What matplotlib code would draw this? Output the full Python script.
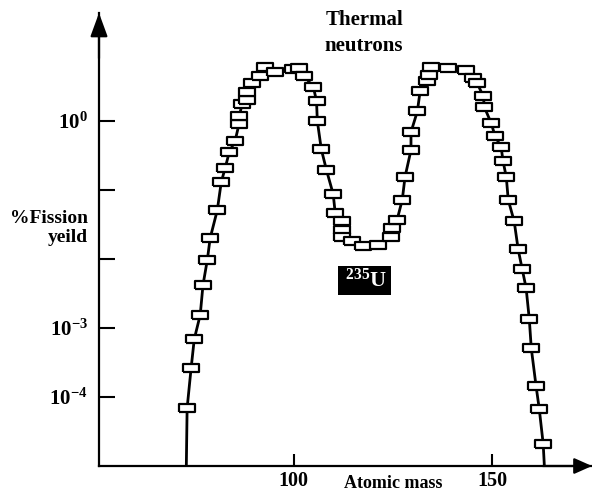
import matplotlib
matplotlib.use("Agg")
import matplotlib.pyplot as plt
from matplotlib.ticker import NullLocator

plt.rcParams['font.family'] = 'Liberation Serif'
plt.rcParams['font.weight'] = 'bold'
plt.rcParams['mathtext.fontset'] = 'custom'
plt.rcParams['mathtext.rm'] = 'Liberation Serif:bold'
plt.rcParams['mathtext.bf'] = 'Liberation Serif:bold'
plt.rcParams['mathtext.it'] = 'Liberation Serif:italic:bold'

# measured points (atomic mass, % fission yield)
mass = [73.2, 74.2, 75.0, 76.5, 77.2, 78.3, 79.0, 80.8, 81.8, 82.8,
        83.8, 85.3, 86.3, 86.3, 87.1, 88.3, 88.3, 89.6, 91.6, 92.8,
        95.4, 99.9, 101.4, 102.7, 105.0, 105.8, 106.0, 107.0, 108.3, 110.0,
        110.5, 112.3, 112.3, 112.3, 114.8, 117.6, 121.3, 124.6, 124.9, 126.1,
        127.4, 128.1, 129.6, 129.6, 131.2, 131.9, 133.7, 134.2, 134.7, 139.0,
        143.5, 145.3, 146.3, 147.8, 148.1, 149.8, 150.8, 152.3, 152.8, 153.6,
        154.1, 155.6, 156.6, 157.6, 158.6, 159.4, 159.9, 161.1, 161.9, 162.9]
yield_pct = [6.9e-5, 2.6e-4, 6.9e-4, 1.55e-3, 4.2e-3, 9.8e-3, 0.020, 0.051, 0.13, 0.21,
             0.35, 0.52, 0.91, 1.17, 1.78, 2.0, 2.6, 3.5, 4.5, 6.0,
             5.1, 5.6, 5.9, 4.5, 3.1, 1.95, 1.0, 0.39, 0.195, 0.087,
             0.047, 0.035, 0.026, 0.021, 0.018, 0.0155, 0.016, 0.021, 0.028, 0.037,
             0.072, 0.155, 0.38, 0.69, 1.38, 2.7, 3.8, 4.7, 6.0, 5.9,
             5.5, 4.2, 3.5, 2.3, 1.58, 0.93, 0.60, 0.42, 0.26, 0.155,
             0.072, 0.035, 0.0138, 0.0072, 0.0038, 1.35e-3, 5.1e-4, 1.45e-4, 6.8e-5, 2.1e-5]

# where the curve meets the x axis
curve_start = (73.0, 1e-5)
curve_end = (163.2, 1e-5)

xticks = [100, 150]
yticks = [1, 1e-1, 1e-2, 1e-3, 1e-4]
ytick_labels = ['$10^{0}$', '', '', '$10^{-3}$', '$10^{-4}$']

fig = plt.figure(figsize=(5.92, 4.91), dpi=100)
ax = fig.add_axes([99 / 592, 25 / 491, 493 / 592, 453 / 491])

curve_x = [curve_start[0]] + mass + [curve_end[0]]
curve_y = [curve_start[1]] + yield_pct + [curve_end[1]]
ax.plot(curve_x, curve_y, color='black', lw=2, zorder=2)

rect = [(-1, -0.5), (1, -0.5), (1, 0.5), (-1, 0.5), (-1, -0.5)]
ax.plot(mass, yield_pct, ls='none', marker=rect, markersize=11.5,
        markerfacecolor='white', markeredgecolor='black', markeredgewidth=1.6, zorder=3)

ax.set_yscale('log')
ax.set_xlim(51.0, 175.2)
ax.set_ylim(1e-5, 36.7)

ax.set_xticks(xticks)
ax.set_xticklabels([str(t) for t in xticks], fontsize=14.5)
ax.set_yticks(yticks)
ax.set_yticklabels(ytick_labels, fontsize=15)
ax.yaxis.set_minor_locator(NullLocator())
ax.tick_params(axis='y', direction='in', length=11.5, width=1.5, pad=8)
ax.tick_params(axis='x', direction='in', length=9, width=1.5, pad=3.5)

for s in ['top', 'right']:
    ax.spines[s].set_visible(False)
for s in ['left', 'bottom']:
    ax.spines[s].set_linewidth(1.6)

# arrow heads on the axes
ax.annotate('', xy=(0, 1), xytext=(0, 0.9), xycoords='axes fraction',
            arrowprops=dict(arrowstyle='-|>,head_length=0.6,head_width=0.22',
                            color='black', lw=1.6, mutation_scale=24,
                            shrinkA=0, shrinkB=0))
ax.annotate('', xy=(1, 0), xytext=(0.9, 0), xycoords='axes fraction',
            arrowprops=dict(arrowstyle='-|>,head_length=0.45,head_width=0.2',
                            color='black', lw=1.6, mutation_scale=24,
                            shrinkA=0, shrinkB=0))

fig.text(364 / 592, 1 - 33 / 491, 'Thermal\nneutrons', ha='center', va='center',
         fontsize=15, linespacing=1.35)
ax.text(117.8, 4.9e-3, r' $^{235}$U ', ha='center', va='center', fontsize=16,
        color='white', bbox=dict(boxstyle='square,pad=0.12', facecolor='black',
                                 edgecolor='black', linewidth=0))
fig.text(88 / 592, 1 - 228 / 491, '%Fission\nyeild', ha='right', va='center',
         fontsize=14, linespacing=1.2)
fig.text(393 / 592, 1 - 483 / 491, 'Atomic mass', ha='center', va='center', fontsize=13)

fig.savefig('out.png', dpi=100)
